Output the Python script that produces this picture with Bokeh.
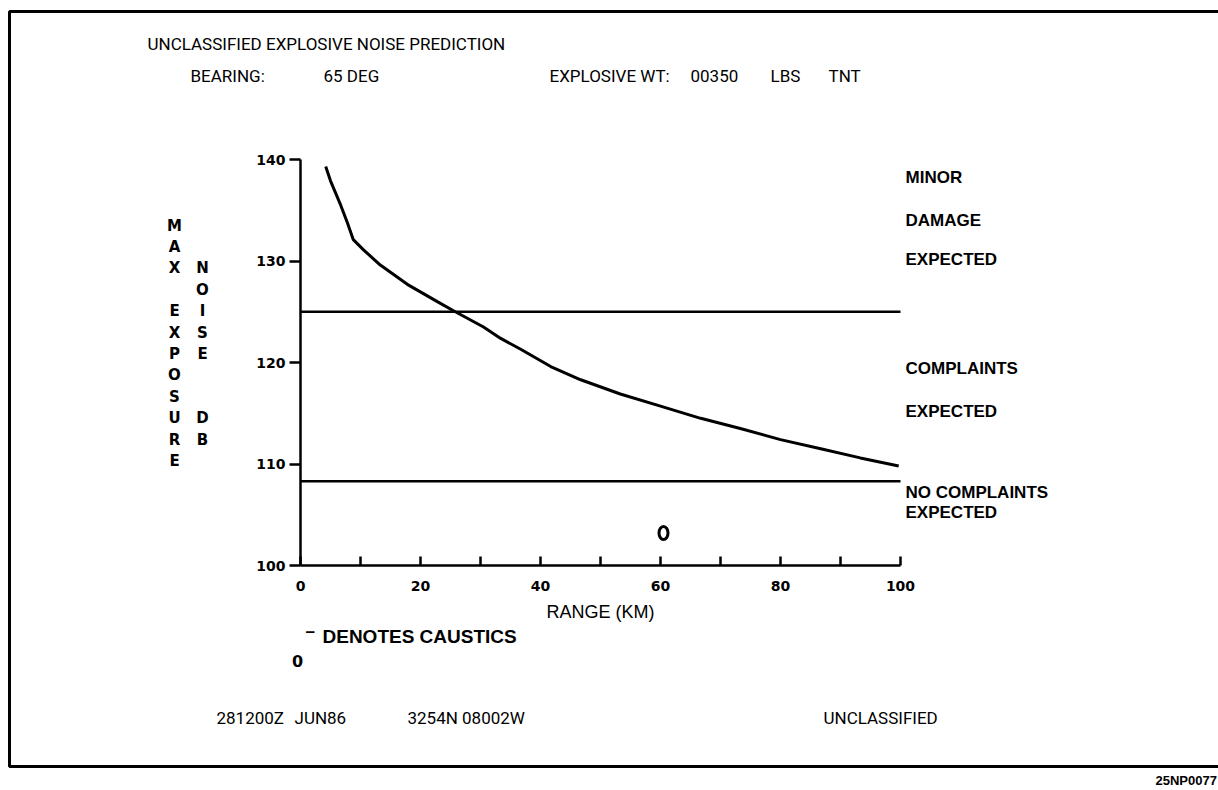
from bokeh.plotting import figure
from bokeh.models import Label, FixedTicker, PolyAnnotation, LinearAxis, Range1d
from bokeh.embed import file_html
from bokeh.resources import INLINE

# ---------------- data ----------------
range_km = [4.2, 5.0, 6.7, 7.8, 8.8, 10.5, 13.3, 17.8, 22.8, 25.5, 30.5, 33.3, 36.7,
            41.7, 46.7, 53.3, 60.0, 66.7, 73.3, 80.0, 86.7, 93.3, 99.7]
noise_db = [139.3, 137.9, 135.5, 133.8, 132.1, 131.1, 129.6, 127.7, 126.0, 125.1, 123.5,
            122.4, 121.3, 119.6, 118.3, 116.9, 115.7, 114.5, 113.5, 112.4, 111.5, 110.6, 109.8]
caustic_km = [60.5]
caustic_db = [103.2]
threshold_db = [125.0, 108.3]
x_ticks = [0, 20, 40, 60, 80, 100]
x_minor_ticks = [10, 30, 50, 70, 90]
y_ticks = [100, 110, 120, 130, 140]
zone_labels = ["MINOR", "DAMAGE", "EXPECTED", "COMPLAINTS", "EXPECTED",
               "NO COMPLAINTS", "EXPECTED"]
y_label_left = "MAX EXPOSURE"
y_label_right = "  NOISE  DB"

# ---------------- layout (page pixels) ----------------
W, H = 1218, 790
X0, X1 = 300, 900      # px of x = 0 and x = 100
Y0, Y1 = 565, 159      # px of y = 100 and y = 140


def dx(px):
    return (px - X0) / (X1 - X0) * 100.0


def dy(py):
    return 100.0 + (Y0 - py) / (Y0 - Y1) * 40.0


p = figure(width=W, height=H, x_range=Range1d(dx(0), dx(W)), y_range=Range1d(dy(H), dy(0)),
           output_backend="svg", toolbar_location=None, title=None,
           x_axis_location=None, y_axis_location=None,
           min_border_left=0, min_border_right=0, min_border_top=0, min_border_bottom=0)
p.outline_line_color = None
p.background_fill_color = "white"
p.border_fill_color = "white"
p.xgrid.visible = False
p.ygrid.visible = False

# x axis
xa = LinearAxis(fixed_location=y_ticks[0], bounds=(x_ticks[0], x_ticks[-1]),
                ticker=FixedTicker(ticks=x_ticks, minor_ticks=x_minor_ticks))
xa.major_tick_in = 9
xa.major_tick_out = 0
xa.minor_tick_in = 9
xa.minor_tick_out = 0
xa.axis_line_width = 2.5
xa.major_tick_line_width = 2.5
xa.minor_tick_line_width = 2.5
xa.major_label_text_font = "DejaVu Sans"
xa.major_label_text_font_style = "bold"
xa.major_label_text_font_size = "14px"
xa.major_label_text_color = "black"
xa.major_label_standoff = 15
xa.axis_label = "RANGE (KM)"
xa.axis_label_text_font = "Liberation Sans"
xa.axis_label_text_font_style = "normal"
xa.axis_label_text_font_size = "18px"
xa.axis_label_text_color = "black"
xa.axis_label_standoff = 8
p.add_layout(xa, "below")

# y axis
ya = LinearAxis(fixed_location=x_ticks[0], bounds=(y_ticks[0], y_ticks[-1]),
                ticker=FixedTicker(ticks=y_ticks, minor_ticks=[]))
ya.major_tick_in = 0
ya.major_tick_out = 11
ya.minor_tick_in = 0
ya.minor_tick_out = 0
ya.axis_line_width = 2.5
ya.major_tick_line_width = 2.5
ya.major_label_text_font = "DejaVu Sans"
ya.major_label_text_font_style = "bold"
ya.major_label_text_font_size = "14px"
ya.major_label_text_color = "black"
ya.major_label_standoff = 4
p.add_layout(ya, "left")

# threshold lines across the x-axis extent
p.multi_line(xs=[[x_ticks[0], x_ticks[-1]] for _ in threshold_db],
             ys=[[t, t] for t in threshold_db], line_color="black", line_width=2.5)

# curve
p.line(range_km, noise_db, line_color="black", line_width=3)

# caustics
p.ellipse(x=caustic_km, y=caustic_db, width=9, height=13, width_units="screen",
          height_units="screen", fill_color=None, line_color="black", line_width=3)


def lab(text, px, py, font="Liberation Sans", size=18, style="bold", align="left"):
    p.add_layout(Label(x=dx(px), y=dy(py), text=text, text_font=font,
                       text_font_size=f"{size}px", text_font_style=style,
                       text_align=align, text_baseline="middle", text_color="black"))


HF = "Roboto"
# header
lab("UNCLASSIFIED EXPLOSIVE NOISE PREDICTION", 147, 43, HF, 17, "normal")
lab("BEARING:", 190, 75, HF, 17, "normal")
lab("65 DEG", 323, 75, HF, 17, "normal")
lab("EXPLOSIVE WT:", 549, 75, HF, 17, "normal")
lab("00350", 690, 75, HF, 17, "normal")
lab("LBS", 770, 75, HF, 17, "normal")
lab("TNT", 828, 75, HF, 17, "normal")

# footer
lab("281200Z", 216, 717, HF, 17, "normal")
lab("JUN86", 294, 717, HF, 17, "normal")
lab("3254N 08002W", 407, 717, HF, 17, "normal")
lab("UNCLASSIFIED", 823, 717, HF, 17, "normal")
lab("25NP0077", 1155, 780, "Liberation Sans", 13, "bold")

# zone labels on the right
zone_y = [177, 220, 259, 368, 411, 492, 512]
for t, yy in zip(zone_labels, zone_y):
    lab(t, 905, yy, "Liberation Sans", 17, "bold")

# stacked y label
for i, ch in enumerate(y_label_left):
    if ch.strip():
        lab(ch, 174, 225 + 21.4 * i, "DejaVu Sans", 15, "bold", "center")
for i, ch in enumerate(y_label_right):
    if ch.strip():
        lab(ch, 202, 225 + 21.4 * i, "DejaVu Sans", 15, "bold", "center")

# caustics legend
lab("0", 297, 660, "DejaVu Sans", 16, "bold", "center")
lab("\u2013", 305, 631, "Liberation Sans", 17, "bold")
lab("DENOTES CAUSTICS", 322, 636, "Liberation Sans", 19, "bold")

# page frame
p.add_layout(PolyAnnotation(xs=[dx(1260), dx(9), dx(9), dx(1260)],
                            ys=[dy(11), dy(11), dy(766), dy(766)],
                            fill_color=None, fill_alpha=0,
                            line_color="black", line_alpha=1.0, line_width=3))

open("out.html", "w").write(file_html(p, INLINE))
